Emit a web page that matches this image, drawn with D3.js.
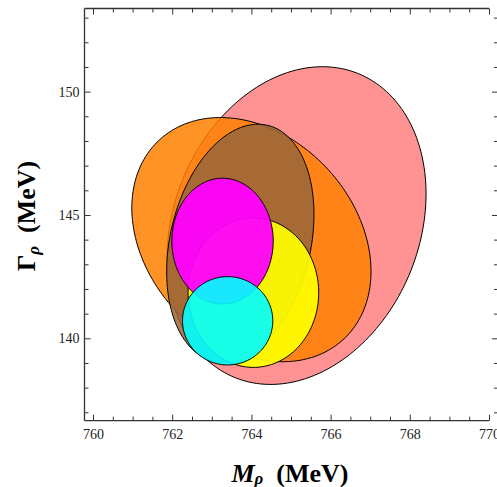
<!DOCTYPE html>
<html>
<head>
<meta charset="utf-8">
<script src="https://cdn.jsdelivr.net/npm/d3@7"></script>
<style>
  body { margin: 0; background: #fff; }
  svg { display: block; }
</style>
</head>
<body>
<div id="chart"></div>
<script>
// error ellipses: centre (MeV), half-widths (MeV), correlation
const names = ["pink", "orange", "brown", "yellow", "magenta", "cyan"];
const centerM = [765.14, 764.0, 763.72, 764.05, 763.27, 763.40];
const centerG = [144.57, 144.0, 143.86, 141.85, 143.94, 140.71];
const sigmaM = [3.27, 3.02, 1.86, 1.65, 1.28, 1.14];
const sigmaG = [6.44, 4.95, 4.82, 3.03, 2.55, 1.79];
const corr = [0.2, -0.26, 0.24, 0.0, 0.0, 0.0];
const fills = ["#ff8080", "#ff8000", "#99663a", "#ffff00", "#ff00ff", "#00ffff"];
const alphas = [0.85, 0.85, 0.85, 0.92, 0.94, 0.9];

const xMajor = [760, 762, 764, 766, 768, 770];
const yMajor = [140, 145, 150];

const width = 497;
const height = 487;

const svg = d3
  .select("#chart")
  .append("svg")
  .attr("width", width)
  .attr("height", height);

const xScale = d3.scaleLinear().domain([759.785, 770.227]).range([84.5, 498]);
const yScale = d3.scaleLinear().domain([136.66, 153.37]).range([420.7, 8.5]);

const xMinor = d3.range(760, 770.01, 0.5).filter((d) => !xMajor.includes(d));
const yMinor = d3.range(137, 153.01, 1).filter((d) => !yMajor.includes(d));

// ellipses
const line = d3
  .line()
  .x((d) => xScale(d[0]))
  .y((d) => yScale(d[1]))
  .curve(d3.curveLinearClosed);

const plot = svg.append("g");
for (let i = 0; i < names.length; i++) {
  const pts = [];
  for (let k = 0; k < 180; k++) {
    const t = (k / 180) * 2 * Math.PI;
    const r = corr[i];
    pts.push([
      centerM[i] + sigmaM[i] * Math.cos(t),
      centerG[i] + sigmaG[i] * (r * Math.cos(t) + Math.sqrt(1 - r * r) * Math.sin(t)),
    ]);
  }
  plot
    .append("path")
    .datum(pts)
    .attr("fill", fills[i])
    .attr("fill-opacity", alphas[i])
    .attr("stroke", "#000")
    .attr("stroke-width", 1)
    .attr("d", line);
}

// frame
const x0 = xScale.range()[0];
const x1 = xScale(770);
const yTop = yScale.range()[1];
const yBot = yScale.range()[0];
const frame = svg.append("g").attr("stroke", "#333").attr("stroke-width", 1.3);
frame.append("line").attr("x1", x0).attr("x2", x1).attr("y1", yTop).attr("y2", yTop);
frame.append("line").attr("x1", x0).attr("x2", x1).attr("y1", yBot).attr("y2", yBot);
frame.append("line").attr("x1", x0).attr("x2", x0).attr("y1", yTop).attr("y2", yBot);

// major ticks with labels
const fontTick = "'Liberation Serif', 'Times New Roman', serif";

const xAxis = d3.axisBottom(xScale).tickValues(xMajor).tickSize(-6).tickPadding(8).tickFormat(d3.format("d"));
const gx = svg.append("g").attr("transform", "translate(0," + yBot + ")").call(xAxis);
gx.select(".domain").remove();
gx.selectAll("text").style("font-family", fontTick).style("font-size", "14px").attr("fill", "#222");

const yAxis = d3.axisLeft(yScale).tickValues(yMajor).tickSize(-6).tickPadding(5).tickFormat(d3.format("d"));
const gy = svg.append("g").attr("transform", "translate(" + x0 + ",0)").call(yAxis);
gy.select(".domain").remove();
gy.selectAll("text").style("font-family", fontTick).style("font-size", "14px").attr("fill", "#222");

// minor ticks and opposite-side ticks
const addAxis = (axis, transform) => {
  const g = svg.append("g").attr("transform", transform).call(axis);
  g.select(".domain").remove();
  g.selectAll("text").remove();
  g.selectAll("line").attr("stroke", "#333");
};
addAxis(d3.axisBottom(xScale).tickValues(xMinor).tickSize(-4), "translate(0," + yBot + ")");
addAxis(d3.axisTop(xScale).tickValues(xMajor).tickSize(-6), "translate(0," + yTop + ")");
addAxis(d3.axisTop(xScale).tickValues(xMinor).tickSize(-4), "translate(0," + yTop + ")");
addAxis(d3.axisLeft(yScale).tickValues(yMinor).tickSize(-4), "translate(" + x0 + ",0)");
addAxis(d3.axisRight(yScale).tickValues(yMajor).tickSize(-6), "translate(" + xScale.range()[1] + ",0)");
addAxis(d3.axisRight(yScale).tickValues(yMinor).tickSize(-4), "translate(" + xScale.range()[1] + ",0)");
gx.selectAll("line").attr("stroke", "#333");
gy.selectAll("line").attr("stroke", "#333");

// axis titles
const xt = svg
  .append("text")
  .attr("x", 290)
  .attr("y", 482)
  .attr("text-anchor", "middle")
  .style("font-family", fontTick)
  .style("font-weight", "bold")
  .style("font-size", "26px");
xt.append("tspan").style("font-style", "italic").text("M");
xt.append("tspan").style("font-style", "italic").style("font-size", "17px").attr("dy", 2).text("ρ");
xt.append("tspan").attr("dy", -2).text("\u00a0\u00a0(MeV)");

const yt = svg
  .append("text")
  .attr("transform", "translate(35,216) rotate(-90)")
  .attr("text-anchor", "middle")
  .style("font-family", fontTick)
  .style("font-weight", "bold")
  .style("font-size", "26px");
yt.append("tspan").text("Γ");
yt.append("tspan").style("font-style", "italic").style("font-size", "17px").attr("dy", 4).text("ρ");
yt.append("tspan").attr("dy", -4).text("\u00a0\u00a0(MeV)");
</script>
</body>
</html>
